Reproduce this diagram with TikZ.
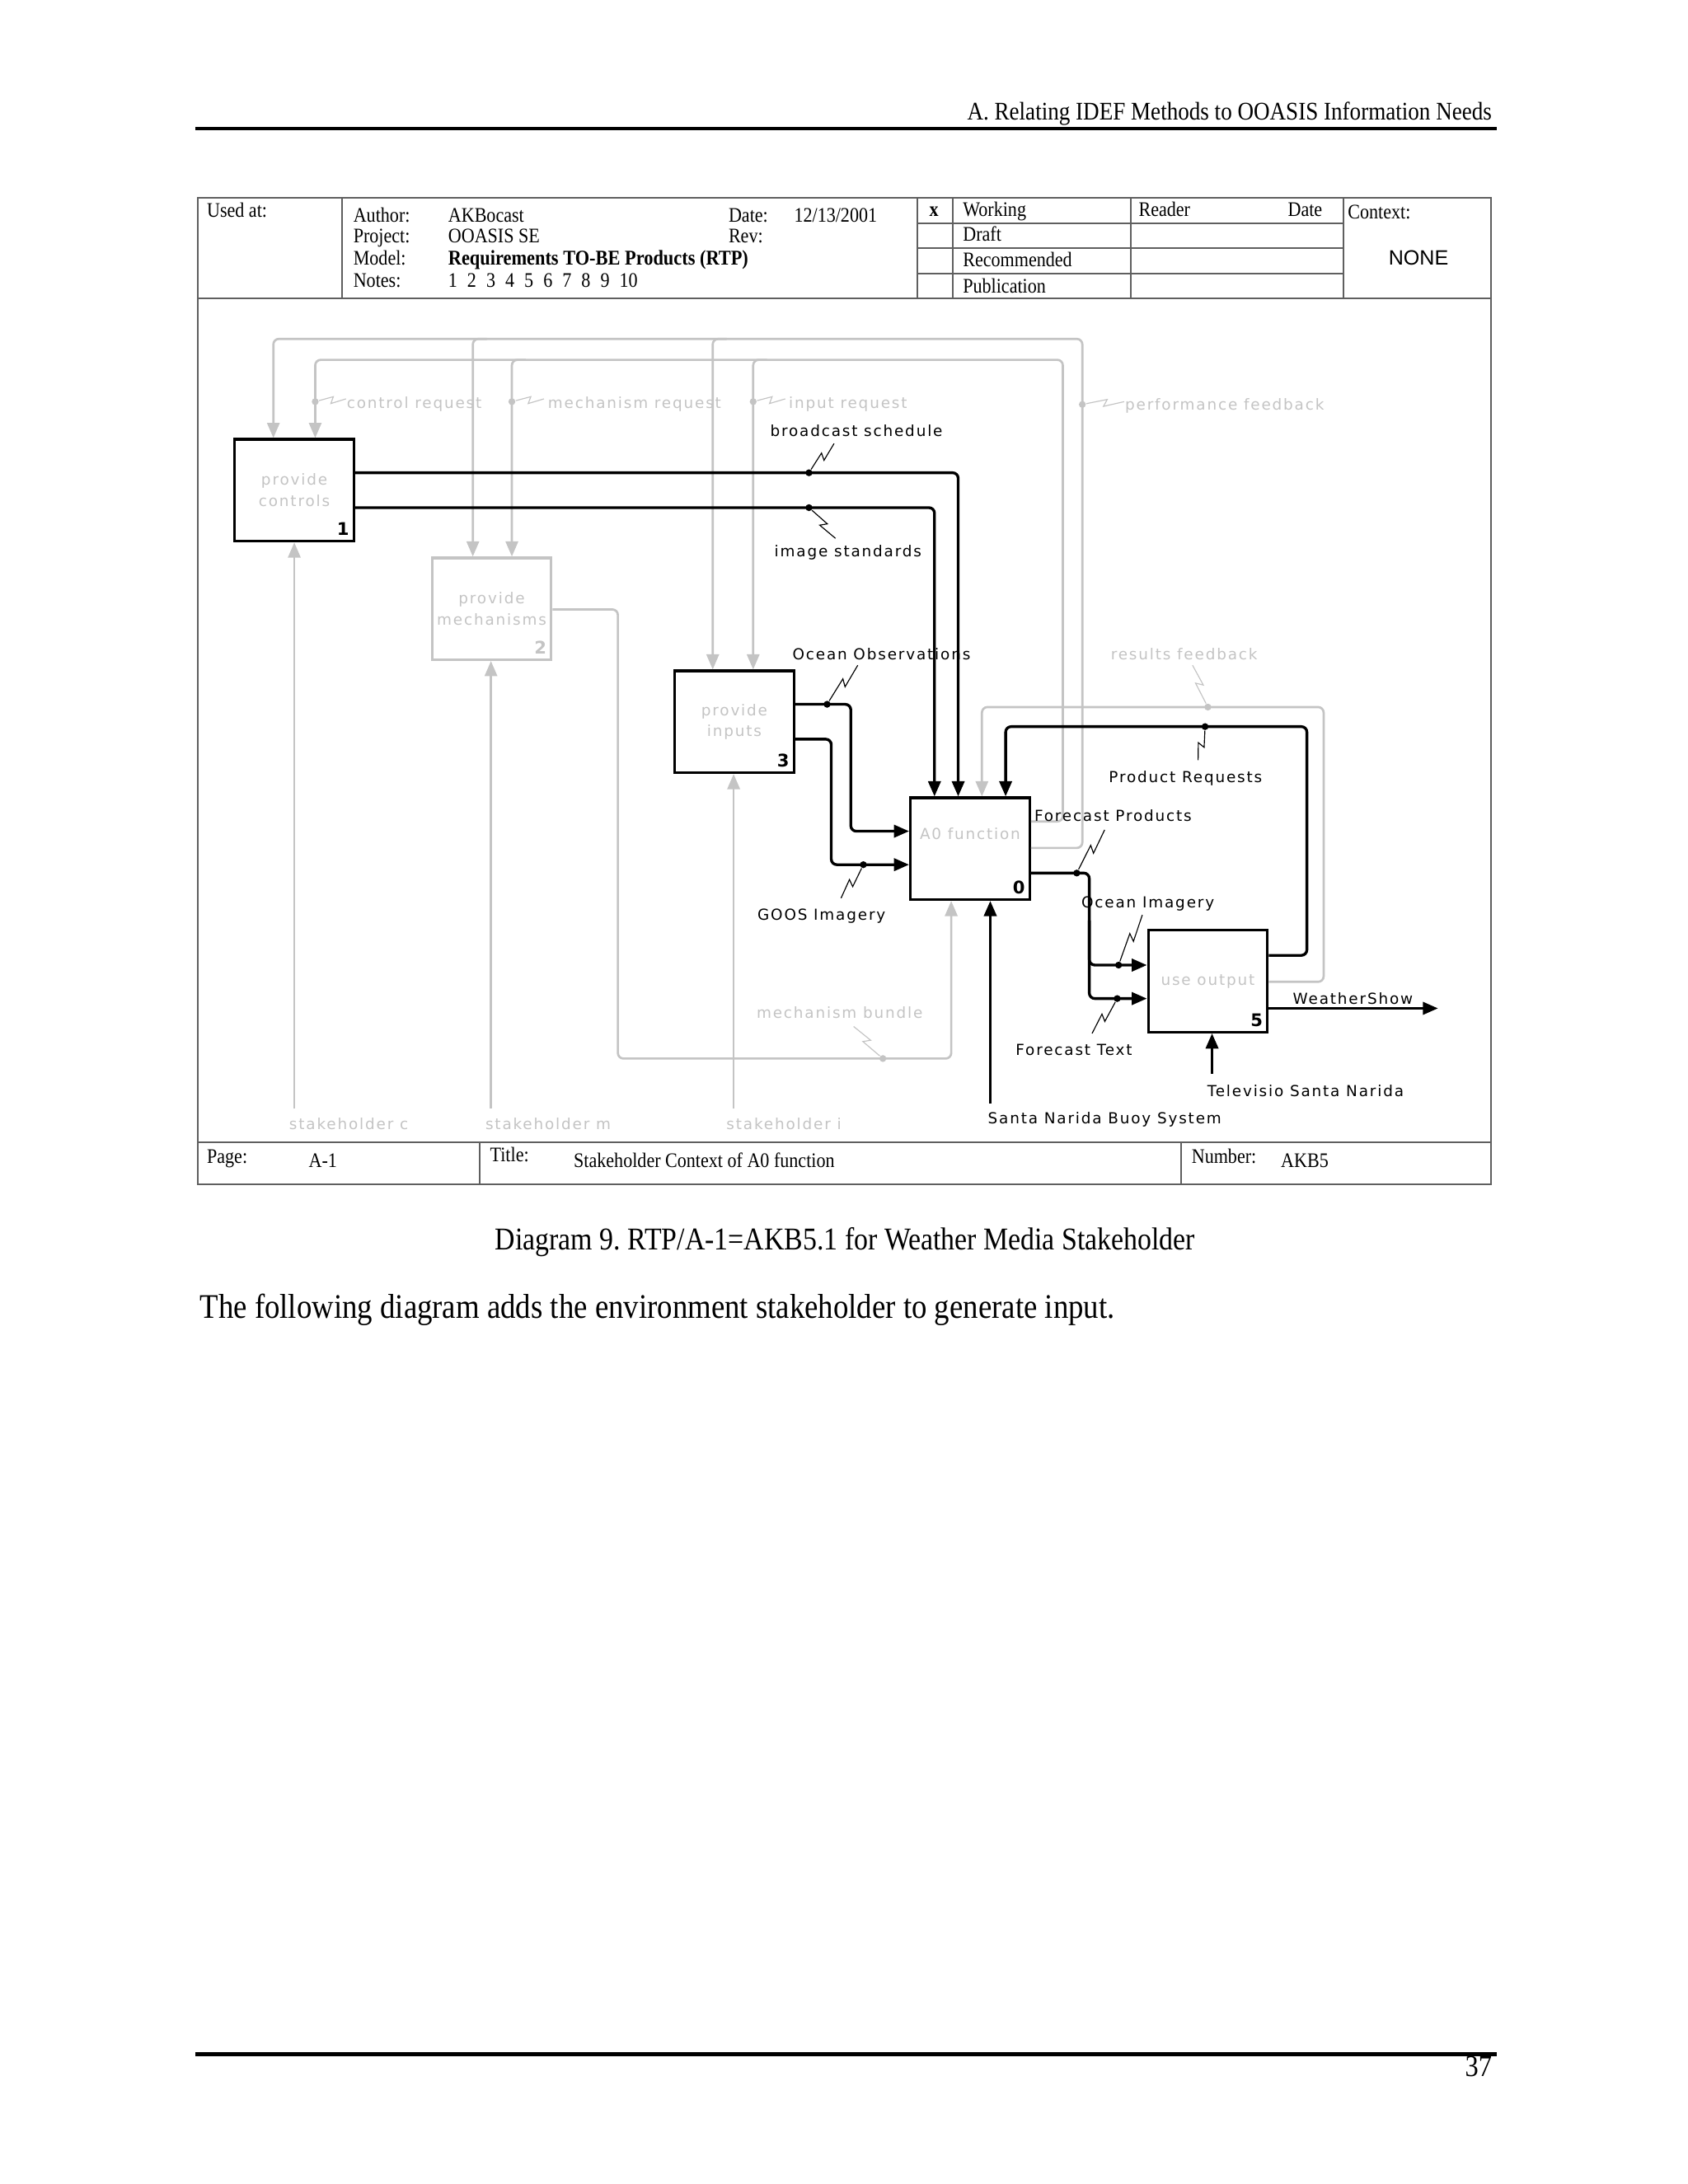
\documentclass[tikz,border=0pt]{standalone}
\usepackage{fontspec}
\usetikzlibrary{arrows.meta,calc}
\frenchspacing
\newfontfamily\ser[FakeStretch=0.88]{Liberation Serif}
\newfontfamily\dia[LetterSpace=10]{DejaVu Sans}
\newfontfamily\diab{DejaVu Sans}
\newfontfamily\arl{Liberation Sans}
\definecolor{lg}{RGB}{196,196,196}
\definecolor{fr}{RGB}{95,95,95}
\newcommand{\sqz}[3][sq]{\draw[#1] (#2) -- ($(#2)!0.6!(#3)!1.2pt!90:(#3)$) -- ($(#2)!0.5!(#3)!1.2pt!-90:(#3)$) -- (#3);}
\tikzset{
 blk/.style={line width=1pt, black, rounded corners=2pt},
 blkarr/.style={blk, -{Triangle[length=5.5pt,width=4.5pt]}},
 gry/.style={line width=0.8pt, lg, rounded corners=2pt},
 gryarr/.style={gry, -{Triangle[length=5.5pt,width=4.5pt]}},
 actbox/.style={draw=black, line width=1pt, minimum width=43.2pt, minimum height=36.9pt, inner sep=0pt, text=lg, font=\dia\fontsize{5.5}{7.6}\selectfont, align=center},
 gactbox/.style={actbox, draw=lg},
 lbl/.style={font=\dia\fontsize{5.5}{6.5}\selectfont, inner sep=0pt},
 glbl/.style={lbl, text=lg},
 num/.style={font=\diab\bfseries\fontsize{6.3}{7}\selectfont, inner sep=0pt, anchor=base east},
 sq/.style={line width=0.35pt, black},
 gsq/.style={line width=0.35pt, lg},
 dotb/.style={circle, fill=black, inner sep=0pt, minimum size=2.5pt},
 dotg/.style={circle, fill=lg, inner sep=0pt, minimum size=2.5pt},
 tbt/.style={font=\ser\fontsize{7.5}{8}\selectfont, inner sep=0pt, anchor=base west},
 frm/.style={line width=0.6pt, fr},
}
\begin{document}
\begin{tikzpicture}[x=0.5058pt, y=-0.5058pt]
\useasboundingbox (0,0) rectangle (1210,1566);
\fill[white] (0,0) rectangle (1210,1566);

% page header / footer
\node[font=\ser\fontsize{9.2}{10}\selectfont, inner sep=0pt, anchor=base east] (hdr) at (1070,86) {A. Relating IDEF Methods to OOASIS Information Needs};
\draw[line width=1.3pt] (140,92) -- (1073,92);
\draw[line width=1.3pt] (140,1473) -- (1073,1473);
\node[font=\ser\fontsize{11}{12}\selectfont, inner sep=0pt, anchor=base east] (pg) at (1070,1489) {37};
\node[font=\ser\fontsize{11.5}{12}\selectfont, inner sep=0pt, anchor=base] (cap) at (606,896) {Diagram 9. RTP/A-1=AKB5.1 for Weather Media Stakeholder};
\node[font=\ser\fontsize{12.5}{13}\selectfont, inner sep=0pt, anchor=base west] (body) at (143,945) {The following diagram adds the environment stakeholder to generate input.};

% form frame
\draw[frm] (142,142) rectangle (1069,849);
\draw[frm] (142,214) -- (1069,214);
\draw[frm] (245,142) -- (245,214);
\draw[frm] (658,142) -- (658,214);
\draw[frm] (683,142) -- (683,214);
\draw[frm] (811,142) -- (811,214);
\draw[frm] (963,142) -- (963,214);
\foreach \yy in {160,178,196} \draw[frm] (658,\yy) -- (963,\yy);
\draw[frm] (142,819) -- (1069,819);
\draw[frm] (344,819) -- (344,849);
\draw[frm] (847,819) -- (847,849);

\node[tbt] (usedat) at (148,156) {Used at:};
\node[tbt] (auth) at (253,159) {Author:};
\node[tbt] (proj) at (253,174) {Project:};
\node[tbt] (modl) at (253,190) {Model:};
\node[tbt] (nts) at (253,206) {Notes:};
\node[tbt] (authv) at (321,159) {AKBocast};
\node[tbt] (projv) at (321,174) {OOASIS SE};
\node[tbt, font=\ser\bfseries\fontsize{7.6}{8}\selectfont] (modlv) at (321,190) {Requirements TO-BE Products (RTP)};
\node[tbt] (ntsv) at (321,206) {1\hspace{3.6pt}2\hspace{3.6pt}3\hspace{3.6pt}4\hspace{3.6pt}5\hspace{3.6pt}6\hspace{3.6pt}7\hspace{3.6pt}8\hspace{3.6pt}9\hspace{3.6pt}10};
\node[tbt] (dt) at (522,159) {Date:};
\node[tbt] (dtv) at (569,159) {12/13/2001};
\node[tbt] (rev) at (522,174) {Rev:};
\node[tbt, font=\ser\bfseries\fontsize{7.5}{8}\selectfont] (xx) at (666,155) {x};
\node[tbt] (wk) at (690,155) {Working};
\node[tbt] (dr) at (690,173) {Draft};
\node[tbt] (rc) at (690,191) {Recommended};
\node[tbt] (pb) at (690,210) {Publication};
\node[tbt] (rd) at (816,155) {Reader};
\node[tbt] (rdd) at (923,155) {Date};
\node[tbt] (ctx) at (966,157) {Context:};
\node[font=\arl\fontsize{7.5}{8}\selectfont, inner sep=0pt] (none) at (1017,185) {NONE};
\node[tbt] (pgl) at (148,834) {Page:};
\node[tbt] (pgv) at (221,837) {A-1};
\node[tbt] (ttl) at (351,833) {Title:};
\node[tbt] (ttlv) at (411,837) {Stakeholder Context of A0 function};
\node[tbt] (nml) at (854,834) {Number:};
\node[tbt] (nmv) at (918,837) {AKB5};

% activity boxes
\node[actbox] (b1) at (211,351.5) {provide\\controls};
\node[gactbox] (b2) at (352.5,436.5) {provide\\mechanisms};
\node[actbox] (b3) at (526.5,517.5) {provide\\inputs};
\node[actbox] (b0) at (695.5,608.5) {\raisebox{3.5pt}[0pt][0pt]{A0 function}};
\node[actbox] (b5) at (866,703.5) {use output};
\node[num] (n1) at ($(b1.south east)+(-4,-5)$) {1};
\node[num, text=lg] (n2) at ($(b2.south east)+(-4,-5)$) {2};
\node[num] (n3) at ($(b3.south east)+(-4,-5)$) {3};
\node[num] (n0) at ($(b0.south east)+(-4,-5)$) {0};
\node[num] (n5) at ($(b5.south east)+(-4,-5)$) {5};

% free ends
\coordinate (sc) at (211,795);
\coordinate (sm) at (352,795);
\coordinate (si) at (526,795);
\coordinate (buoy) at (710,791);
\coordinate (tv) at (869,770);
\coordinate (wsend) at (1031,723);

% grey connectors
\draw[gryarr] (b0.east |- 0,608) -- (776,608) -- (776,243) -- (196,243) -- (196,0 |- b1.north);
\draw[gryarr] (349,243) -- (339,243) -- (339,0 |- b2.north);
\draw[gryarr] (521,243) -- (511,243) -- (511,0 |- b3.north);
\draw[gryarr] (b0.east |- 0,589) -- (762,589) -- (762,258) -- (226,258) -- (226,0 |- b1.north);
\draw[gryarr] (377,258) -- (367,258) -- (367,0 |- b2.north);
\draw[gryarr] (550,258) -- (540,258) -- (540,0 |- b3.north);
\draw[gryarr] (b5.east |- 0,704) -- (949,704) -- (949,507) -- (704,507) -- (704,0 |- b0.north);
\draw[gryarr] (b2.east |- 0,437) -- (443,437) -- (443,759) -- (682,759) -- (682,0 |- b0.south);
\draw[gryarr] (sc) -- (sc |- b1.south);
\draw[gryarr] (sm) -- (sm |- b2.south);
\draw[gryarr] (si) -- (si |- b3.south);

% black connectors
\draw[blkarr] (b1.east |- 0,339) -- (687,339) -- (687,0 |- b0.north);
\draw[blkarr] (b1.east |- 0,364) -- (670,364) -- (670,0 |- b0.north);
\draw[blkarr] (b3.east |- 0,505) -- (610,505) -- (610,596) -- (b0.west |- 0,596);
\draw[blkarr] (b3.east |- 0,530) -- (596,530) -- (596,620) -- (b0.west |- 0,620);
\draw[blkarr] (b0.east |- 0,626) -- (781,626) -- (781,692) -- (b5.west |- 0,692);
\draw[blkarr] (781,660) -- (781,716) -- (b5.west |- 0,716);
\draw[blkarr] (b5.east |- 0,685) -- (937,685) -- (937,521) -- (721,521) -- (721,0 |- b0.north);
\draw[blkarr] (b5.east |- 0,723) -- (wsend);
\draw[blkarr] (tv) -- (tv |- b5.south);
\draw[blkarr] (buoy) -- (buoy |- b0.south);

% labels
\node[lbl] (lbs) at (614,309) {broadcast schedule};
\node[lbl] (lis) at (608,396) {image standards};
\node[lbl] (loo) at (632,469) {Ocean Observations};
\node[lbl] (lgi) at (589,657) {GOOS Imagery};
\node[lbl] (lpr) at (850,558) {Product Requests};
\node[lbl] (lfp) at (798,585) {Forecast Products};
\node[lbl] (loi) at (823,648) {Ocean Imagery};
\node[lbl] (lft) at (770,753) {Forecast Text};
\node[lbl] (lws) at (970,716) {WeatherShow};
\node[lbl] (ltv) at (936,782) {Televisio Santa Narida};
\node[lbl] (lby) at (792,803) {Santa Narida Buoy System};
\node[glbl] (lcr) at (297,290) {control request};
\node[glbl] (lmr) at (455,290) {mechanism request};
\node[glbl] (lir) at (608,290) {input request};
\node[glbl] (lpf) at (878,291) {performance feedback};
\node[glbl] (lrf) at (849,469) {results feedback};
\node[glbl] (lmb) at (602,726) {mechanism bundle};
\node[glbl] (lsc) at (250,806) {stakeholder c};
\node[glbl] (lsm) at (393,806) {stakeholder m};
\node[glbl] (lsi) at (562,806) {stakeholder i};

% label dots and squiggles
\node[dotb] (d1) at (580,339) {};
\node[dotb] (d2) at (580,364) {};
\node[dotb] (d3) at (593,505) {};
\node[dotb] (d4) at (619,620) {};
\node[dotb] (d5) at (864,521) {};
\node[dotb] (d6) at (772,626) {};
\node[dotb] (d7) at (802,692) {};
\node[dotb] (d8) at (801,716) {};
\node[dotg] (g1) at (226,288) {};
\node[dotg] (g2) at (367,288) {};
\node[dotg] (g3) at (540,288) {};
\node[dotg] (g4) at (776,290) {};
\node[dotg] (g5) at (866,507) {};
\node[dotg] (g6) at (633,759) {};
\sqz{d1}{598,318}
\sqz{d2}{599,386}
\sqz{d3}{615,477}
\sqz{d4}{603,644}
\sqz{d5}{859,545}
\sqz{d6}{792,595}
\sqz{d7}{819,656}
\sqz{d8}{783,741}
\sqz[gsq]{g1}{248,286}
\sqz[gsq]{g2}{390,286}
\sqz[gsq]{g3}{563,286}
\sqz[gsq]{g4}{806,288}
\sqz[gsq]{g5}{855,477}
\sqz[gsq]{g6}{612,736}
\end{tikzpicture}
\end{document}
